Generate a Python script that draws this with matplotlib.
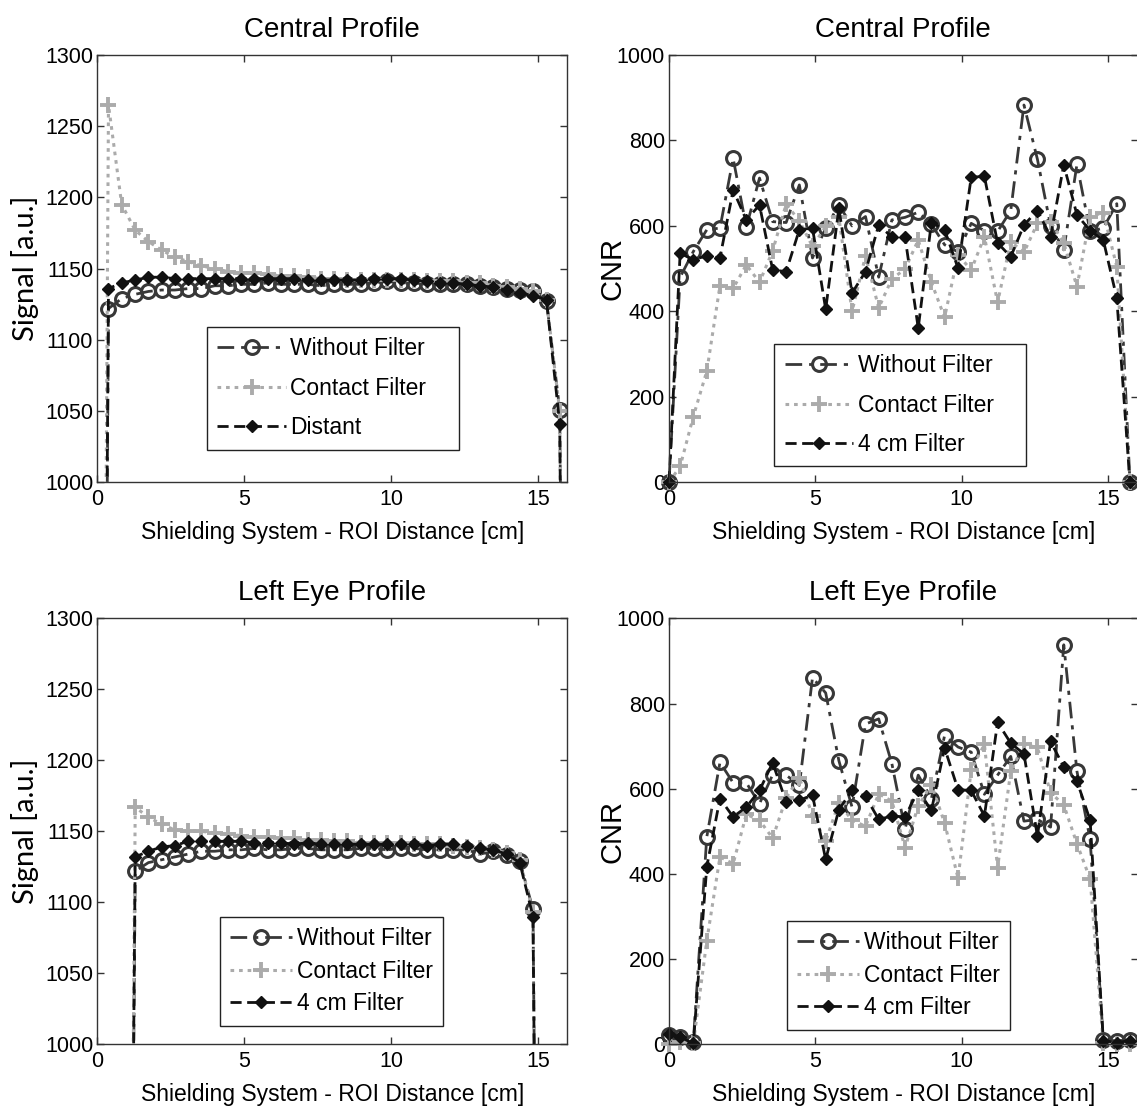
import matplotlib

matplotlib.use("Agg")

import matplotlib.pyplot as plt

plt.rcParams["font.family"] = ["Liberation Sans", "DejaVu Sans"]

# Distance grid shared by all profiles [cm]
x_central_signal = [0.00, 0.38, 0.83, 1.29, 1.74, 2.19, 2.64, 3.09, 3.54, 4.00,
                    4.45, 4.90, 5.35, 5.80, 6.25, 6.71, 7.16, 7.61, 8.06, 8.51,
                    8.96, 9.41, 9.87, 10.32, 10.77, 11.22, 11.67, 12.12, 12.58,
                    13.03, 13.48, 13.93, 14.38, 14.83, 15.29, 15.74, 16.19]
x_left_signal = [0.83, 1.29, 1.74, 2.19, 2.64, 3.09, 3.54, 4.00, 4.45, 4.90,
                 5.35, 5.80, 6.25, 6.71, 7.16, 7.61, 8.06, 8.51, 8.96, 9.41,
                 9.87, 10.32, 10.77, 11.22, 11.67, 12.12, 12.58, 13.03, 13.48,
                 13.93, 14.38, 14.83, 15.29]
x_cnr = [0.00, 0.38, 0.83, 1.29, 1.74, 2.19, 2.64, 3.09, 3.54, 4.00,
         4.45, 4.90, 5.35, 5.80, 6.25, 6.71, 7.16, 7.61, 8.06, 8.51,
         8.96, 9.41, 9.87, 10.32, 10.77, 11.22, 11.67, 12.12, 12.58,
         13.03, 13.48, 13.93, 14.38, 14.83, 15.29, 15.74]

# Central profile - signal
sig_c_without = [0, 1122, 1129, 1132, 1134, 1135, 1135, 1136, 1136, 1138, 1138,
                 1139, 1139, 1140, 1139, 1139, 1139, 1138, 1139, 1139, 1139,
                 1140, 1141, 1140, 1140, 1139, 1139, 1139, 1139, 1138, 1137,
                 1136, 1135, 1134, 1127, 1051, 0]
sig_c_contact = [0, 1265, 1195, 1177, 1169, 1163, 1158, 1155, 1152, 1150, 1148,
                 1147, 1147, 1146, 1145, 1145, 1144, 1143, 1143, 1142, 1142,
                 1142, 1142, 1142, 1142, 1141, 1141, 1141, 1140, 1140, 1138,
                 1137, 1136, 1134, 1128, 1050, 0]
sig_c_distant = [0, 1136, 1140, 1142, 1144, 1144, 1143, 1143, 1143, 1143, 1143,
                 1143, 1143, 1143, 1143, 1143, 1142, 1142, 1142, 1142, 1142,
                 1143, 1143, 1143, 1142, 1141, 1140, 1140, 1139, 1138, 1137,
                 1135, 1133, 1131, 1128, 1041, 0]

# Left eye profile - signal
sig_l_without = [0, 1122, 1128, 1130, 1132, 1134, 1136, 1136, 1137, 1137, 1138,
                 1137, 1137, 1138, 1138, 1137, 1137, 1137, 1138, 1138, 1137,
                 1138, 1138, 1137, 1137, 1137, 1137, 1134, 1136, 1133, 1129,
                 1095, 0]
sig_l_contact = [0, 1167, 1160, 1155, 1151, 1150, 1150, 1149, 1148, 1147, 1146,
                 1146, 1145, 1145, 1144, 1144, 1143, 1143, 1142, 1142, 1142,
                 1142, 1141, 1141, 1141, 1140, 1139, 1138, 1137, 1135, 1130,
                 1093, 0]
sig_l_4cm = [0, 1132, 1136, 1139, 1140, 1143, 1143, 1143, 1143, 1143, 1142,
             1142, 1142, 1141, 1142, 1141, 1141, 1141, 1141, 1141, 1141,
             1141, 1141, 1140, 1141, 1141, 1140, 1138, 1137, 1134, 1128,
             1090, 0]

# Central profile - CNR
cnr_c_without = [0, 480, 540, 591, 595, 758, 597, 712, 610, 608, 696, 525, 595,
                 649, 600, 622, 480, 614, 620, 632, 604, 556, 539, 606, 589,
                 587, 636, 883, 756, 600, 544, 744, 587, 595, 652, 0]
cnr_c_contact = [0, 37, 154, 260, 460, 454, 509, 468, 542, 651, 612, 552, 599,
                 620, 400, 530, 408, 476, 499, 567, 468, 386, 532, 497, 575,
                 421, 563, 538, 606, 610, 560, 458, 622, 631, 505, 0]
cnr_c_4cm = [0, 536, 521, 530, 525, 684, 614, 649, 497, 493, 591, 595, 405,
             641, 443, 493, 602, 574, 574, 361, 608, 591, 501, 714, 716, 560,
             528, 602, 636, 575, 743, 626, 589, 567, 431, 0]

# Left eye profile - CNR
cnr_l_without = [21, 17, 5, 487, 662, 614, 614, 565, 633, 632, 608, 861, 825,
                 666, 557, 752, 764, 659, 505, 632, 577, 725, 698, 686, 587,
                 632, 676, 524, 528, 510, 938, 641, 481, 11, 8, 11]
cnr_l_contact = [0, 5, 2, 243, 440, 424, 540, 526, 484, 579, 626, 537, 477,
                 567, 526, 512, 588, 571, 462, 559, 610, 520, 390, 645, 704,
                 415, 641, 704, 697, 591, 562, 471, 388, 2, 0, 0]
cnr_l_4cm = [25, 17, 2, 417, 577, 534, 557, 596, 661, 569, 573, 585, 434, 551,
             596, 582, 528, 536, 534, 596, 549, 696, 598, 596, 536, 756, 707,
             682, 489, 711, 651, 618, 526, 9, 4, 9]

STYLE_WITHOUT = dict(color="#383838", linestyle=(0, (6, 2.5, 1.5, 2.5)),
                     linewidth=2, marker="o", markersize=10,
                     markerfacecolor="none", markeredgewidth=2.2)
STYLE_CONTACT = dict(color="#ababab", linestyle=(0, (1.2, 1.6)),
                     linewidth=2.2, marker="+", markersize=12,
                     markeredgewidth=2.8)
STYLE_4CM = dict(color="#111111", linestyle=(0, (4, 2)), linewidth=2,
                 marker="D", markersize=6.5, markerfacecolor="#111111")


def style_axes(ax, ylim, yticks, ylabel, ylabel_font, ylabel_size, ylabel_x):
    ax.set_xlim(0, 16)
    ax.set_ylim(*ylim)
    ax.set_xticks([0, 5, 10, 15])
    ax.set_yticks(yticks)
    ax.tick_params(direction="in", top=True, right=True, length=5,
                   width=1, labelsize=15.5, color="#333333")
    ax.tick_params(axis="x", pad=5)
    ax.tick_params(axis="y", pad=3)
    for spine in ax.spines.values():
        spine.set_color("#333333")
        spine.set_linewidth(1)
    ax.set_xlabel("Shielding System - ROI Distance [cm]", fontsize=16.5,
                  labelpad=8)
    ax.set_ylabel(ylabel, family=ylabel_font, fontsize=ylabel_size)
    ax.yaxis.set_label_coords(ylabel_x, 0.5)


def add_legend(ax, labels, box, spacing, handle_len):
    leg = ax.legend(labels, loc="center", bbox_to_anchor=box, mode="expand",
                    fontsize=16.5, frameon=True, fancybox=False,
                    edgecolor="#222222", framealpha=1, handlelength=handle_len,
                    handletextpad=0.2, labelspacing=spacing, borderpad=0.45,
                    borderaxespad=0)
    leg.get_frame().set_linewidth(1)


fig = plt.figure(figsize=(11.37, 11.09), dpi=100)

ax_tl = fig.add_axes([0.0856, 0.5651, 0.4134, 0.3853])
ax_tr = fig.add_axes([0.5884, 0.5651, 0.4121, 0.3853])
ax_bl = fig.add_axes([0.0856, 0.0583, 0.4134, 0.3841])
ax_br = fig.add_axes([0.5884, 0.0583, 0.4121, 0.3841])

# Central profile signal
ax_tl.plot(x_central_signal, sig_c_without, **STYLE_WITHOUT)
ax_tl.plot(x_central_signal, sig_c_contact, **STYLE_CONTACT)
ax_tl.plot(x_central_signal, sig_c_distant, **STYLE_4CM)
style_axes(ax_tl, (1000, 1300), range(1000, 1301, 50), "Signal [a.u.]",
           "Lato", 21, -0.125)
ax_tl.set_title("Central Profile", fontsize=20, pad=13)
add_legend(ax_tl, ["Without Filter", "Contact Filter", "Distant"],
           (0.233, 0.073, 0.536, 0.294), 0.72, 3.0)

# Central profile CNR
ax_tr.plot(x_cnr, cnr_c_without, **STYLE_WITHOUT)
ax_tr.plot(x_cnr, cnr_c_contact, **STYLE_CONTACT)
ax_tr.plot(x_cnr, cnr_c_4cm, **STYLE_4CM)
style_axes(ax_tr, (0, 1000), range(0, 1001, 200), "CNR",
           "Liberation Sans", 21, -0.09)
ax_tr.set_title("Central Profile", fontsize=20, pad=13)
add_legend(ax_tr, ["Without Filter", "Contact Filter", "4 cm Filter"],
           (0.225, 0.034, 0.537, 0.293), 0.72, 3.0)

# Left eye profile signal
ax_bl.plot(x_left_signal, sig_l_without, **STYLE_WITHOUT)
ax_bl.plot(x_left_signal, sig_l_contact, **STYLE_CONTACT)
ax_bl.plot(x_left_signal, sig_l_4cm, **STYLE_4CM)
style_axes(ax_bl, (1000, 1300), range(1000, 1301, 50), "Signal [a.u.]",
           "Lato", 21, -0.125)
ax_bl.set_title("Left Eye Profile", fontsize=20, pad=13)
add_legend(ax_bl, ["Without Filter", "Contact Filter", "4 cm Filter"],
           (0.261, 0.047, 0.475, 0.249), 0.42, 2.7)

# Left eye profile CNR
ax_br.plot(x_cnr, cnr_l_without, **STYLE_WITHOUT)
ax_br.plot(x_cnr, cnr_l_contact, **STYLE_CONTACT)
ax_br.plot(x_cnr, cnr_l_4cm, **STYLE_4CM)
style_axes(ax_br, (0, 1000), range(0, 1001, 200), "CNR",
           "Liberation Sans", 21, -0.09)
ax_br.set_title("Left Eye Profile", fontsize=20, pad=13)
add_legend(ax_br, ["Without Filter", "Contact Filter", "4 cm Filter"],
           (0.252, 0.039, 0.476, 0.247), 0.42, 2.7)

for ax in (ax_tr, ax_br):
    for line in ax.get_lines():
        line.set_clip_on(False)

fig.savefig("out.png", dpi=100)
